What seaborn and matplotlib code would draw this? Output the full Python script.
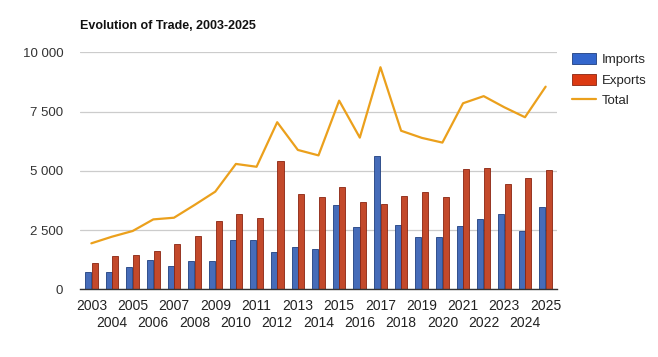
"""Evolution of trade 2003-2025: imports/exports bars with total line."""

import matplotlib.pyplot as plt
import pandas as pd
import seaborn as sns
from matplotlib.lines import Line2D
from matplotlib.patches import Patch
from matplotlib.ticker import FuncFormatter

years = [str(y) for y in range(2003, 2026)]
imports = [730, 730, 940, 1240, 980, 1190, 1190, 2070, 2090, 1560, 1770, 1700,
           3560, 2630, 5620, 2710, 2220, 2220, 2670, 2950, 3170, 2470, 3490]
exports = [1110, 1400, 1450, 1620, 1920, 2250, 2880, 3170, 3010, 5410, 4030, 3900,
           4300, 3680, 3610, 3940, 4110, 3900, 5080, 5120, 4440, 4710, 5030]
total = [1940, 2220, 2460, 2950, 3020, 3560, 4120, 5290, 5170, 7050, 5880, 5650,
         7960, 6400, 9370, 6690, 6390, 6190, 7850, 8150, 7680, 7260, 8550]

COLORS = {"Imports": "#3366CC", "Exports": "#DC3912"}
EDGES = {"Imports": "#1F3F80", "Exports": "#8A2410"}
LINE_COLOR = "#EBA01C"


def main() -> None:
    sns.set_theme(style="white")
    plt.rcParams["font.family"] = ["Liberation Sans", "DejaVu Sans"]

    bars = pd.DataFrame({"year": years, "Imports": imports, "Exports": exports})
    bars = bars.melt(id_vars="year", var_name="flow", value_name="value")
    line = pd.DataFrame({"year": years, "total": total})

    fig, ax = plt.subplots(figsize=(6.58, 3.57), dpi=100)
    fig.subplots_adjust(left=80 / 658, right=557 / 658, top=1 - 52.3 / 357, bottom=1 - 289.3 / 357)

    sns.barplot(data=bars, x="year", y="value", hue="flow", order=years,
                hue_order=["Imports", "Exports"], palette=COLORS, width=0.64,
                gap=0.08, legend=False, ax=ax)
    for container, flow in zip(ax.containers, ["Imports", "Exports"]):
        for patch in container:
            patch.set_edgecolor(EDGES[flow])
            patch.set_linewidth(0.6)

    sns.pointplot(data=line, x="year", y="total", order=years, color=LINE_COLOR,
                  marker="", linewidth=1.6, ax=ax)

    ax.set_ylim(0, 10000)
    ax.set_yticks([0, 2500, 5000, 7500, 10000])
    ax.yaxis.set_major_formatter(FuncFormatter(lambda v, _: f"{int(v):,}".replace(",", " ")))
    ax.grid(axis="y", color="#CCCCCC", linewidth=0.9)
    ax.set_axisbelow(True)
    for side in ["left", "right", "top"]:
        ax.spines[side].set_visible(False)
    ax.spines["bottom"].set_color("#333333")
    ax.spines["bottom"].set_linewidth(1.0)

    # alternate year labels on two rows, as in the original
    even = list(range(0, len(years), 2))
    odd = list(range(1, len(years), 2))
    ax.set_xticks(even)
    ax.set_xticklabels([years[i] for i in even])
    ax.set_xticks(odd, minor=True)
    ax.set_xticklabels([years[i] for i in odd], minor=True)
    ax.tick_params(axis="x", which="major", length=0, labelsize=10, pad=7, colors="#222222")
    ax.tick_params(axis="x", which="minor", length=0, labelsize=10, pad=19, colors="#222222")
    ax.tick_params(axis="y", length=0, labelsize=9.5, pad=12, colors="#333333")
    ax.set_xlabel("")
    ax.set_ylabel("")
    ax.set_xlim(-0.55, len(years) - 0.45)

    fig.text(80 / 658, 1 - 26 / 357, "Evolution of Trade, 2003-2025", fontsize=9,
             fontweight="bold", va="center", ha="left", color="#111111")

    handles = [
        Patch(facecolor=COLORS["Imports"], edgecolor=EDGES["Imports"], linewidth=0.6, label="Imports"),
        Patch(facecolor=COLORS["Exports"], edgecolor=EDGES["Exports"], linewidth=0.6, label="Exports"),
        Line2D([0], [0], color=LINE_COLOR, linewidth=1.6, label="Total"),
    ]
    fig.legend(handles=handles, loc="upper left", bbox_to_anchor=(560 / 658, 1 - 41 / 357),
               frameon=False, fontsize=9.5, handlelength=1.8, handleheight=0.9,
               labelspacing=0.58, handletextpad=0.45)

    fig.savefig("out.png", dpi=100)
    plt.close(fig)


if __name__ == "__main__":
    main()
